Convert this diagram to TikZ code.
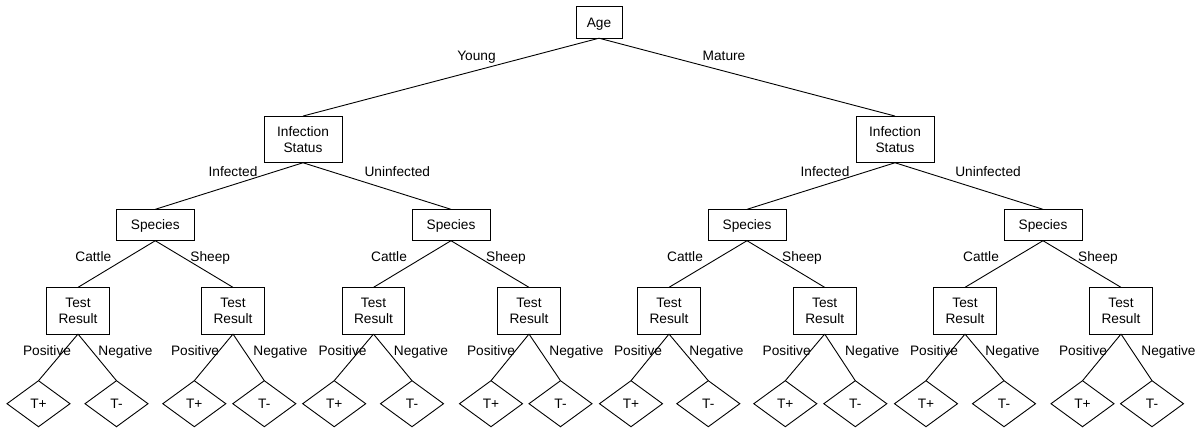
\documentclass[tikz,border=0pt]{standalone}
\usepackage{fontspec}
\setmainfont{Liberation Sans}
\usetikzlibrary{shapes.geometric}
\begin{document}
\begin{tikzpicture}[x=1pt,y=-1pt,
  every node/.style={font=\fontsize{13.7}{15.5}\selectfont, inner sep=0pt, outer sep=0pt},
  box/.style={draw, line width=0.9pt, minimum width=#1, align=center},
  onebox/.style={box=#1, minimum height=31.4pt, text height=9.8pt, text depth=0pt},
  twobox/.style={box=#1, minimum height=46.7pt},
  leaf/.style={draw, line width=0.9pt, shape=diamond, minimum width=63pt, minimum height=46pt, text height=9.8pt, text depth=0pt},
  lbl/.style={anchor=base},
  edge/.style={line width=0.9pt}]
\useasboundingbox (0,0) rectangle (1199,429);
% nodes
\node[onebox=46pt] (age) at (599,22.5) {Age};
\node[twobox=78pt] (is1) at (303,139.4) {Infection\\Status};
\node[twobox=78pt] (is2) at (895,139.4) {Infection\\Status};
\foreach \n/\x in {1/155.3,2/451,3/747,4/1043}{
  \node[onebox=78pt] (sp\n) at (\x,225) {Species};
}
\foreach \n/\x in {1/78,2/233,3/373.5,4/529,5/669,6/824.7,7/965,8/1121}{
  \node[twobox=62.6pt] (tr\n) at (\x,310.7) {Test\\Result};
}
\foreach \n/\a/\b in {1/38.5/116.5,2/194.3/264.3,3/334.2/412,4/491/560.5,5/631/708.3,6/785.3/855.3,7/926/1004,8/1082.5/1152}{
  \node[leaf] (p\n) at (\a,403.7) {T+};
  \node[leaf] (m\n) at (\b,403.7) {T-};
}
% edges
\draw[edge] (age.south) -- (is1.north);
\draw[edge] (age.south) -- (is2.north);
\draw[edge] (is1.south) -- (sp1.north);
\draw[edge] (is1.south) -- (sp2.north);
\draw[edge] (is2.south) -- (sp3.north);
\draw[edge] (is2.south) -- (sp4.north);
\draw[edge] (sp1.south) -- (tr1.north);
\draw[edge] (sp1.south) -- (tr2.north);
\draw[edge] (sp2.south) -- (tr3.north);
\draw[edge] (sp2.south) -- (tr4.north);
\draw[edge] (sp3.south) -- (tr5.north);
\draw[edge] (sp3.south) -- (tr6.north);
\draw[edge] (sp4.south) -- (tr7.north);
\draw[edge] (sp4.south) -- (tr8.north);
\foreach \n in {1,...,8}{
  \draw[edge] (tr\n.south) -- (p\n.north);
  \draw[edge] (tr\n.south) -- (m\n.north);
}
% labels
\node[lbl] (lyoung) at (476.5,60) {Young};
\node[lbl] (lmature) at (724,60) {Mature};
\node[lbl] (linf1) at (233,176.6) {Infected};
\node[lbl] (lun1) at (397.3,176.6) {Uninfected};
\node[lbl] (linf2) at (825,176.6) {Infected};
\node[lbl] (lun2) at (988,176.6) {Uninfected};
\foreach \n/\x in {1/93.3,2/389,3/685,4/981}{
  \node[lbl] (lc\n) at (\x,261.6) {Cattle};
}
\foreach \n/\x in {1/210.3,2/506,3/802,4/1098}{
  \node[lbl] (ls\n) at (\x,261.6) {Sheep};
}
\foreach \n/\x in {1/47,2/195,3/342.5,4/491,5/638,6/786.7,7/934,8/1083}{
  \node[lbl] (lp\n) at (\x,355.6) {Positive};
}
\foreach \n/\x in {1/125.5,2/280.5,3/421,4/576.5,5/716.5,6/872.2,7/1012.5,8/1168.5}{
  \node[lbl] (ln\n) at (\x,355.6) {Negative};
}
\end{tikzpicture}
\end{document}
